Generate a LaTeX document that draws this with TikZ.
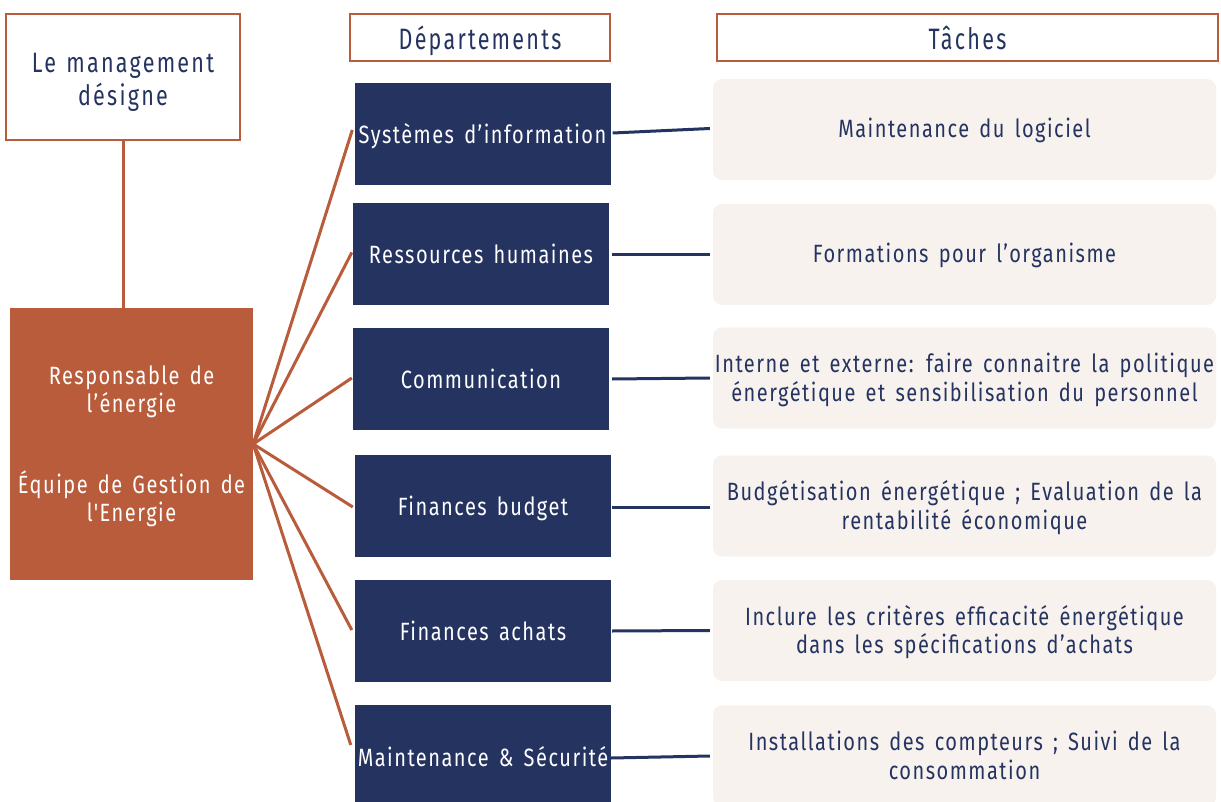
\documentclass[tikz,border=0pt]{standalone}
\usepackage{fontspec}
\newfontfamily\dfont[FakeStretch=0.80,LetterSpace=6,WordSpace=1.5]{Fira Sans}
\newfontfamily\hfont[FakeStretch=0.73,LetterSpace=7.6,WordSpace=1.3]{Fira Sans}
\newfontfamily\mfont[FakeStretch=0.77,LetterSpace=8,WordSpace=1.3]{Fira Sans}
\usetikzlibrary{calc}
\definecolor{rust}{HTML}{B85C3C}
\definecolor{navy}{HTML}{253361}
\definecolor{beige}{HTML}{F7F2EE}
\begin{document}
\begin{tikzpicture}[x=1pt,y=-1pt,
  every node/.style={font=\dfont\fontsize{25}{28.7}\selectfont, inner sep=0pt, align=center},
  one/.style={text height=#1, text depth=0pt},
  two/.style={text height=46.7pt, text depth=0pt},
  hdr/.style={draw=rust, line width=2.5pt, fill=white, text=navy, minimum width=#1, minimum height=47,
    font=\hfont\fontsize{29.5}{35}\selectfont},
  dept/.style={fill=navy, text=white, minimum width=256, minimum height=102, one=19pt},
  task/.style={fill=beige, text=navy, rounded corners=9pt, minimum width=503, minimum height=101},
  rline/.style={draw=rust, line width=3pt},
  nline/.style={draw=navy, line width=3pt}]
\useasboundingbox (0,0) rectangle (1221,802);
\node[hdr=234, minimum height=126, one=57pt, font=\mfont\fontsize{28}{33.3}\selectfont] (mg) at (123,77) {Le management\\désigne};
\node[fill=rust, text=white, minimum width=243, minimum height=272, one=155.4pt] (re) at (131.5,444)
  {Responsable de\\l’énergie\\[51.6pt]Équipe de Gestion de\\l'Energie};
\node[hdr=260, one=23.4pt] (hd) at (480,37.5) {Départements};
\node[hdr=501, one=24pt] (ht) at (967.5,37.5) {Tâches};
\node[dept] (d1) at (482.5,134) {Systèmes d’information};
\node[dept] (d2) at (481,254.5) {Ressources humaines};
\node[dept] (d3) at (481,379) {Communication};
\node[dept] (d4) at (483,506) {Finances budget};
\node[dept] (d5) at (483,631) {Finances achats};
\node[dept, minimum height=104] (d6) at (483,757) {Maintenance \& Sécurité};
\node[task, one=17pt] (t1) at (964.5,129.5) {Maintenance du logiciel};
\node[task, one=17pt] (t2) at (964.5,254.5) {Formations pour l’organisme};
\node[task, two] (t3) at (964.5,378) {Interne et externe: faire connaitre la politique\\énergétique et sensibilisation du personnel};
\node[task, two] (t4) at (964.5,506) {Budgétisation énergétique ; Evaluation de la\\rentabilité économique};
\node[task, two] (t5) at (964.5,630.5) {Inclure les critères efficacité énergétique\\dans les spécifications d’achats};
\node[task, two] (t6) at (964.5,756) {Installations des compteurs ; Suivi de la\\consommation};
\draw[rline] (mg.south) -- (re.north -| mg.south);
\coordinate (o) at (re.east);
\draw[rline] (o) -- ($(d1.west)+(-2,-4)$);
\draw[rline] (o) -- ($(d2.west)+(-1,-2)$);
\draw[rline] (o) -- ($(d3.west)+(-1,-1)$);
\draw[rline] (o) -- ($(d4.west)+(-2,1)$);
\draw[rline] (o) -- ($(d5.west)+(-3,-1)$);
\draw[rline] (o) -- ($(d6.west)+(-4,-12)$);
\draw[nline] ($(d1.east)+(2,-1)$) -- ($(t1.west)+(-3,-1)$);
\draw[nline] ($(d2.east)+(3,0)$) -- ($(t2.west)+(-3,0)$);
\draw[nline] ($(d3.east)+(3,0)$) -- ($(t3.west)+(-3,0)$);
\draw[nline] ($(d4.east)+(1,1)$) -- ($(t4.west)+(-3,1)$);
\draw[nline] ($(d5.east)+(1,0)$) -- ($(t5.west)+(-3,0)$);
\draw[nline] ($(d6.east)+(0,1)$) -- ($(t6.west)+(-3,0)$);
\end{tikzpicture}
\end{document}
